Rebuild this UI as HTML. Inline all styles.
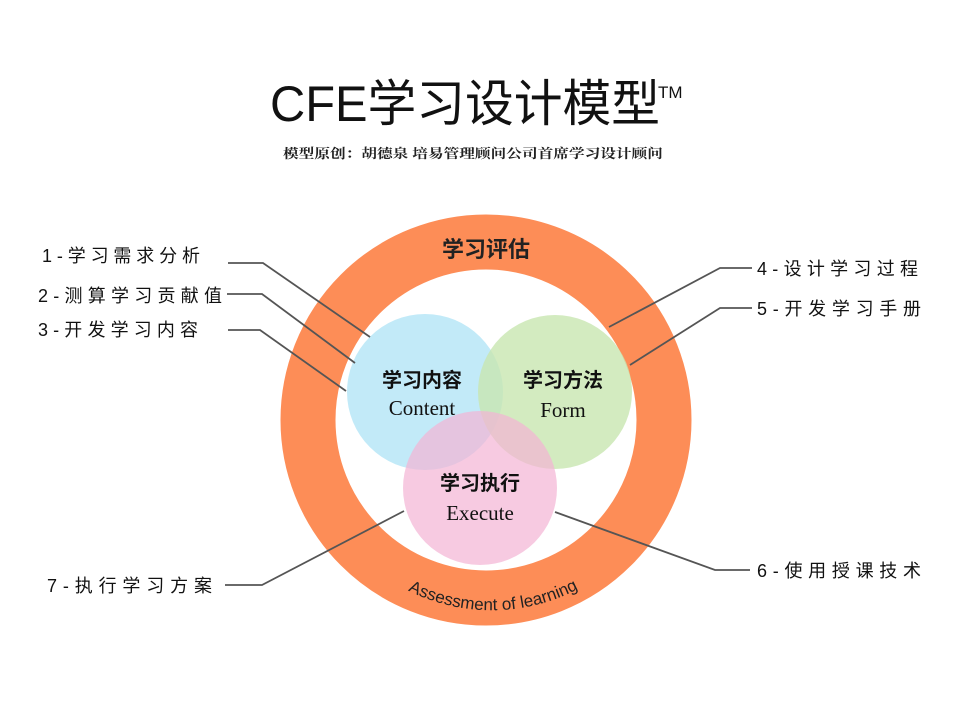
<!DOCTYPE html>
<html><head><meta charset="utf-8"><style>
body{margin:0;background:#fff;}
svg text{font-family:"Liberation Sans","Noto Sans CJK SC",sans-serif;}
svg text.serif{font-family:"Liberation Serif",serif;}
</style></head><body>
<svg width="960" height="720" viewBox="0 0 960 720" xmlns="http://www.w3.org/2000/svg">
<rect width="960" height="720" fill="#fff"/>
<text x="270" y="121" font-size="50" fill="#111" textLength="390" lengthAdjust="spacingAndGlyphs">CFE学习设计模型</text>
<text x="658" y="98" font-size="17" fill="#111">TM</text>
<text x="283" y="158" font-size="13" font-weight="bold" fill="#222" textLength="380" lengthAdjust="spacingAndGlyphs" style="font-family:'Noto Serif CJK SC',serif">模型原创：胡德泉 培易管理顾问公司首席学习设计顾问</text>
<circle cx="486" cy="420" r="178" fill="none" stroke="#fd8d57" stroke-width="55"/>
<circle cx="425" cy="392" r="78" fill="#bfe9f8" opacity="0.95"/>
<circle cx="555" cy="392" r="77" fill="#c8e6b0" opacity="0.8"/>
<circle cx="480" cy="488" r="77" fill="#f4b4d4" opacity="0.7"/>
<text x="486" y="257" font-size="22" font-weight="bold" fill="#222" text-anchor="middle">学习评估</text>
<path id="arc" d="M 384 576 A 186 186 0 0 0 602 574" fill="none"/>
<text font-size="17" fill="#222"><textPath href="#arc" startOffset="50%" text-anchor="middle">Assessment of learning</textPath></text>
<g font-size="20" font-weight="bold" fill="#111" text-anchor="middle">
<text x="422" y="387">学习内容</text><text x="563" y="387">学习方法</text><text x="480" y="490">学习执行</text></g>
<g font-size="21" fill="#111" text-anchor="middle">
<text class="serif" x="422" y="415">Content</text><text class="serif" x="563" y="417">Form</text><text class="serif" x="480" y="520">Execute</text></g>
<g stroke="#555" stroke-width="1.8" fill="none">
<polyline points="228,263 263,263 370,337"/>
<polyline points="227,294 262,294 355,363"/>
<polyline points="228,330 260,330 346,391"/>
<polyline points="609,327 720,268 752,268"/>
<polyline points="630,365 720,308 752,308"/>
<polyline points="555,512 715,570 750,570"/>
<polyline points="404,511 262,585 225,585"/>
</g>
<g font-size="18" fill="#111">
<text x="42" y="262" textLength="158" lengthAdjust="spacing">1-学习需求分析</text>
<text x="38" y="302" textLength="184" lengthAdjust="spacing">2-测算学习贡献值</text>
<text x="38" y="336" textLength="160" lengthAdjust="spacing">3-开发学习内容</text>
<text x="757" y="275" textLength="161" lengthAdjust="spacing">4-设计学习过程</text>
<text x="757" y="315" textLength="164" lengthAdjust="spacing">5-开发学习手册</text>
<text x="757" y="577" textLength="164" lengthAdjust="spacing">6-使用授课技术</text>
<text x="47" y="592" textLength="165" lengthAdjust="spacing">7-执行学习方案</text>
</g>
</svg>
</body></html>
